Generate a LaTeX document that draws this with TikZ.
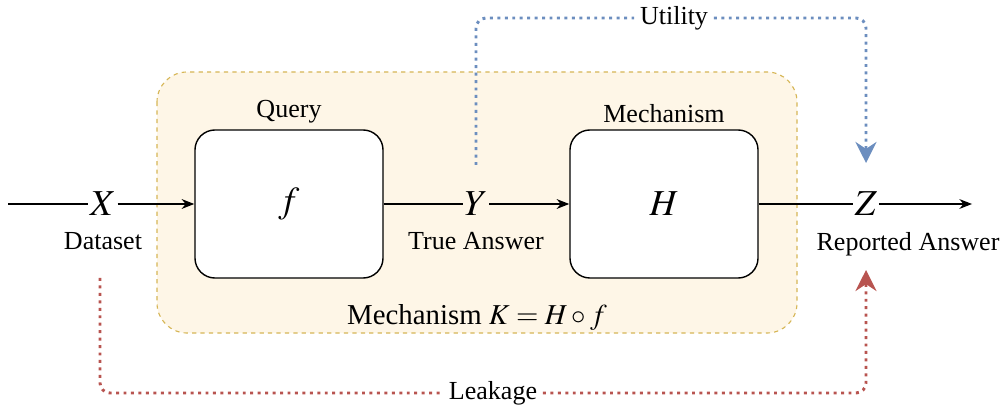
\documentclass[tikz,border=0pt]{standalone}
\usepackage{mathptmx}
\usepackage{fontspec}
\setmainfont{Liberation Serif}
\usepackage{xcolor}
\usepackage{tikz}
\usetikzlibrary{arrows.meta,positioning,calc}

\definecolor{mechfill}{HTML}{FEF6E7}
\definecolor{mechdraw}{HTML}{D6B656}
\definecolor{utilblue}{HTML}{6C8EBF}
\definecolor{leakred}{HTML}{B85450}

\begin{document}
\begin{tikzpicture}[
    x=0.025cm, y=-0.025cm,
    font=\fontsize{18.5}{22}\selectfont,
    mechbox/.style={draw=mechdraw, fill=mechfill, dashed, line width=0.8pt, rounded corners=0.75cm},
    funcbox/.style={rectangle, draw, fill=white, line width=1pt, rounded corners=0.5cm, minimum width=4.7cm, minimum height=3.7cm, font=\fontsize{26}{30}\selectfont},
    var/.style={inner sep=1pt, font=\fontsize{26}{30}\selectfont},
    arrow/.style={-{Stealth[length=9pt,width=7pt]}, line width=0.8pt},
    channel/.style={-{Stealth[length=15pt,width=15pt,inset=5pt]}, line width=2.1pt, dash pattern=on 2.1pt off 3.2pt, rounded corners=0.25cm}
]
\useasboundingbox (0,0) rectangle (1005,412);

% Mechanism K
\draw[mechbox] (157,72) rectangle (797,333);
\node[font=\fontsize{20.5}{24}\selectfont] (mechlabel) at (477,318) {Mechanism $K = H \circ f$};

% Query and mechanism boxes
\node[funcbox] (query) at (289,204) {$f$};
\node[above=1pt of query] {Query};
\node[funcbox] (mech) at (664,204) {$H$};
\node[above=1pt of mech] {Mechanism};

% Variables
\coordinate (in) at (8,204);
\coordinate (out) at (972,204);
\node[var] (X) at (103,204) {$X$};
\node[below=7pt of X] (dataset) {Dataset};
\node[var] (Y) at (476,204) {$Y$};
\node[below=7pt of Y] (answer) {True Answer};
\node[var] (Z) at (866,204) {$Z$};
\node[below=7pt of Z, xshift=1.05cm] (reported) {Reported Answer};

\draw[line width=0.8pt] (in) -- (X);
\draw[arrow] (X) -- (query);
\draw[line width=0.8pt] (query) -- (Y);
\draw[arrow] (Y) -- (mech);
\draw[line width=0.8pt] (mech) -- (Z);
\draw[arrow] (Z) -- (out);

% Utility and leakage
\coordinate (ustart) at (476,165);
\coordinate (uend) at (866,163);
\node[fill=white, inner xsep=4pt] (utility) at (674,18) {Utility};
\draw[channel, draw=utilblue] (ustart) |- (utility) -| (uend);

\coordinate (lstart) at (100,278);
\coordinate (lend) at (866,270);
\node[fill=white, inner xsep=4pt] (leakage) at (493,393) {Leakage};
\draw[channel, draw=leakred] (lstart) |- (leakage) -| (lend);

\end{tikzpicture}
\end{document}
